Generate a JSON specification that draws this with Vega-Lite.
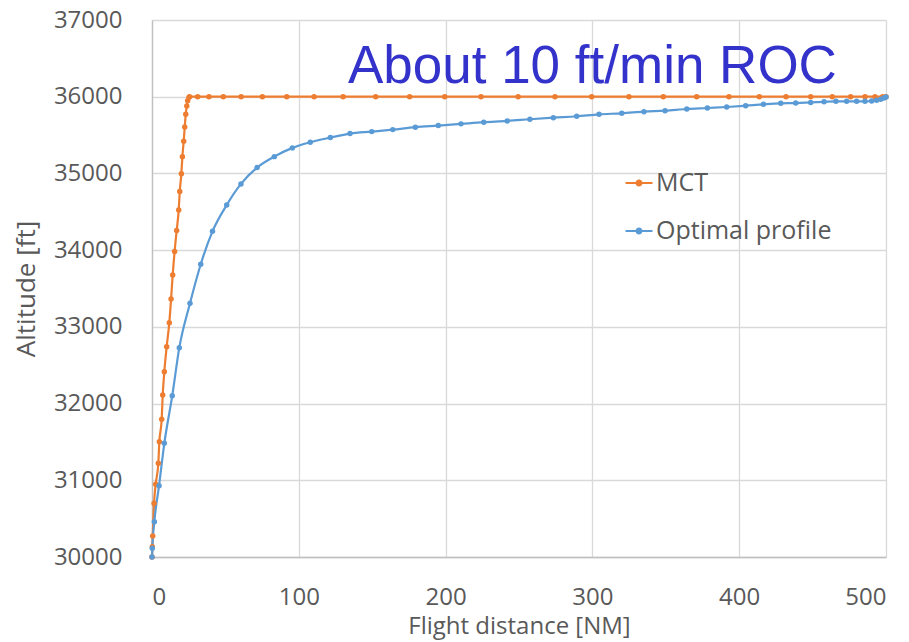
{
  "$schema": "https://vega.github.io/schema/vega-lite/v6.json",
  "autosize": {"type": "none"},
  "width": 734,
  "height": 537,
  "padding": {"left": 152, "top": 20, "right": 23, "bottom": 85},
  "background": "white",
  "config": {
    "view": {"stroke": null},
    "font": "Open Sans",
    "axis": {
      "labelFont": "Open Sans", "titleFont": "Open Sans",
      "labelColor": "#595959", "titleColor": "#595959",
      "labelFontSize": 24, "titleFontSize": 24, "titleFontWeight": "normal",
      "gridColor": "#d9d9d9", "gridWidth": 1.3, "domainColor": "#bfbfbf", "domainWidth": 1.3,
      "ticks": false
    }
  },
  "datasets": {
    "series": [
      {"series": "MCT", "x": 0, "alt": 30000},
      {"series": "MCT", "x": 0.2, "alt": 30134},
      {"series": "MCT", "x": 0.5, "alt": 30274},
      {"series": "MCT", "x": 1.4, "alt": 30700},
      {"series": "MCT", "x": 2.5, "alt": 30948},
      {"series": "MCT", "x": 4.3, "alt": 31222},
      {"series": "MCT", "x": 5.0, "alt": 31503},
      {"series": "MCT", "x": 6.6, "alt": 31795},
      {"series": "MCT", "x": 7.3, "alt": 32112},
      {"series": "MCT", "x": 8.4, "alt": 32416},
      {"series": "MCT", "x": 10.0, "alt": 32742},
      {"series": "MCT", "x": 11.8, "alt": 33055},
      {"series": "MCT", "x": 13.0, "alt": 33364},
      {"series": "MCT", "x": 14.1, "alt": 33677},
      {"series": "MCT", "x": 15.4, "alt": 33981},
      {"series": "MCT", "x": 16.8, "alt": 34255},
      {"series": "MCT", "x": 18.2, "alt": 34524},
      {"series": "MCT", "x": 18.9, "alt": 34763},
      {"series": "MCT", "x": 20.0, "alt": 34997},
      {"series": "MCT", "x": 20.7, "alt": 35219},
      {"series": "MCT", "x": 21.6, "alt": 35420},
      {"series": "MCT", "x": 22.3, "alt": 35606},
      {"series": "MCT", "x": 23.0, "alt": 35772},
      {"series": "MCT", "x": 23.7, "alt": 35880},
      {"series": "MCT", "x": 24.3, "alt": 35949},
      {"series": "MCT", "x": 25.2, "alt": 35993},
      {"series": "MCT", "x": 25.6, "alt": 36000},
      {"series": "MCT", "x": 31.1, "alt": 36000},
      {"series": "MCT", "x": 38.8, "alt": 36000},
      {"series": "MCT", "x": 48.6, "alt": 36000},
      {"series": "MCT", "x": 60.7, "alt": 36000},
      {"series": "MCT", "x": 75.2, "alt": 36000},
      {"series": "MCT", "x": 91.8, "alt": 36000},
      {"series": "MCT", "x": 110.4, "alt": 36000},
      {"series": "MCT", "x": 130.2, "alt": 36000},
      {"series": "MCT", "x": 152.4, "alt": 36000},
      {"series": "MCT", "x": 175.5, "alt": 36000},
      {"series": "MCT", "x": 199.4, "alt": 36000},
      {"series": "MCT", "x": 224.1, "alt": 36000},
      {"series": "MCT", "x": 249.4, "alt": 36000},
      {"series": "MCT", "x": 274.5, "alt": 36000},
      {"series": "MCT", "x": 299.5, "alt": 36000},
      {"series": "MCT", "x": 324.9, "alt": 36000},
      {"series": "MCT", "x": 348.3, "alt": 36000},
      {"series": "MCT", "x": 371.0, "alt": 36000},
      {"series": "MCT", "x": 393.0, "alt": 36000},
      {"series": "MCT", "x": 413.7, "alt": 36000},
      {"series": "MCT", "x": 431.9, "alt": 36000},
      {"series": "MCT", "x": 448.7, "alt": 36000},
      {"series": "MCT", "x": 463.4, "alt": 36000},
      {"series": "MCT", "x": 475.9, "alt": 36000},
      {"series": "MCT", "x": 485.7, "alt": 36000},
      {"series": "MCT", "x": 492.5, "alt": 36000},
      {"series": "MCT", "x": 497.7, "alt": 36000},
      {"series": "MCT", "x": 500, "alt": 36000},
      {"series": "Optimal profile", "x": 0, "alt": 30000},
      {"series": "Optimal profile", "x": 0.2, "alt": 30113},
      {"series": "Optimal profile", "x": 1.6, "alt": 30460},
      {"series": "Optimal profile", "x": 4.8, "alt": 30930},
      {"series": "Optimal profile", "x": 8.4, "alt": 31482},
      {"series": "Optimal profile", "x": 13.8, "alt": 32103},
      {"series": "Optimal profile", "x": 18.6, "alt": 32729},
      {"series": "Optimal profile", "x": 25.9, "alt": 33308},
      {"series": "Optimal profile", "x": 33.2, "alt": 33816},
      {"series": "Optimal profile", "x": 41.2, "alt": 34245},
      {"series": "Optimal profile", "x": 50.9, "alt": 34589},
      {"series": "Optimal profile", "x": 60.6, "alt": 34863},
      {"series": "Optimal profile", "x": 71.6, "alt": 35076},
      {"series": "Optimal profile", "x": 83.3, "alt": 35219},
      {"series": "Optimal profile", "x": 95.6, "alt": 35333},
      {"series": "Optimal profile", "x": 107.8, "alt": 35407},
      {"series": "Optimal profile", "x": 121.5, "alt": 35467},
      {"series": "Optimal profile", "x": 134.9, "alt": 35519},
      {"series": "Optimal profile", "x": 149.7, "alt": 35545},
      {"series": "Optimal profile", "x": 164.0, "alt": 35571},
      {"series": "Optimal profile", "x": 179.4, "alt": 35603},
      {"series": "Optimal profile", "x": 195.0, "alt": 35624},
      {"series": "Optimal profile", "x": 210.5, "alt": 35646},
      {"series": "Optimal profile", "x": 226.0, "alt": 35668},
      {"series": "Optimal profile", "x": 242.0, "alt": 35684},
      {"series": "Optimal profile", "x": 257.4, "alt": 35706},
      {"series": "Optimal profile", "x": 273.4, "alt": 35727},
      {"series": "Optimal profile", "x": 289.3, "alt": 35745},
      {"series": "Optimal profile", "x": 304.5, "alt": 35771},
      {"series": "Optimal profile", "x": 320.0, "alt": 35784},
      {"series": "Optimal profile", "x": 335.1, "alt": 35805},
      {"series": "Optimal profile", "x": 349.5, "alt": 35818},
      {"series": "Optimal profile", "x": 364.3, "alt": 35840},
      {"series": "Optimal profile", "x": 378.3, "alt": 35853},
      {"series": "Optimal profile", "x": 391.5, "alt": 35866},
      {"series": "Optimal profile", "x": 404.4, "alt": 35883},
      {"series": "Optimal profile", "x": 416.5, "alt": 35901},
      {"series": "Optimal profile", "x": 428.3, "alt": 35914},
      {"series": "Optimal profile", "x": 438.5, "alt": 35917},
      {"series": "Optimal profile", "x": 448.7, "alt": 35926},
      {"series": "Optimal profile", "x": 457.8, "alt": 35934},
      {"series": "Optimal profile", "x": 465.9, "alt": 35940},
      {"series": "Optimal profile", "x": 473.2, "alt": 35940},
      {"series": "Optimal profile", "x": 480.0, "alt": 35940},
      {"series": "Optimal profile", "x": 485.7, "alt": 35940},
      {"series": "Optimal profile", "x": 490.2, "alt": 35944},
      {"series": "Optimal profile", "x": 493.6, "alt": 35953},
      {"series": "Optimal profile", "x": 496.4, "alt": 35966},
      {"series": "Optimal profile", "x": 498.6, "alt": 35983},
      {"series": "Optimal profile", "x": 500, "alt": 35996}
    ],
    "note": [
      {"label": "About 10 ft/min ROC", "x": 300, "alt": 36390}
    ]
  },
  "layer": [
    {
      "data": {"name": "series"},
      "mark": {"type": "line", "interpolate": "monotone", "strokeWidth": 2.2,
               "point": {"filled": true, "size": 30}},
      "encoding": {
        "x": {"field": "x", "type": "quantitative",
              "scale": {"domain": [0, 500], "nice": false},
              "axis": {"values": [0, 100, 200, 300, 400, 500], "title": "Flight distance [NM]",
                       "labelPadding": 28, "titlePadding": 5, "grid": true, "titleFontSize": 24}},
        "y": {"field": "alt", "type": "quantitative",
              "scale": {"domain": [30000, 37000], "nice": false, "zero": false},
              "axis": {"values": [30000, 31000, 32000, 33000, 34000, 35000, 36000, 37000],
                       "format": "d", "title": "Altitude [ft]", "labelPadding": 30, "titlePadding": 14,
                       "titleFontSize": 26}},
        "color": {"field": "series", "type": "nominal",
                  "scale": {"domain": ["MCT", "Optimal profile"], "range": ["#ED7D31", "#5B9BD5"]},
                  "legend": {"title": null, "orient": "none", "legendX": 472, "legendY": 148,
                             "padding": 0, "labelLimit": 0,
                             "symbolType": "M-1,0L1,0M-0.18,0A0.18,0.18 0 1,1 0.18,0A0.18,0.18 0 1,1 -0.18,0",
                             "symbolSize": 729, "symbolStrokeWidth": 2.2,
                             "labelFontSize": 25, "labelColor": "#595959", "labelFont": "Open Sans",
                             "labelOffset": 2, "rowPadding": 20}}
      }
    },
    {
      "data": {"name": "note"},
      "mark": {"type": "text", "font": "Liberation Sans", "fontSize": 53, "color": "#3333CC",
               "align": "center", "baseline": "middle"},
      "encoding": {
        "x": {"field": "x", "type": "quantitative"},
        "y": {"field": "alt", "type": "quantitative"},
        "text": {"field": "label"}
      }
    }
  ]
}
